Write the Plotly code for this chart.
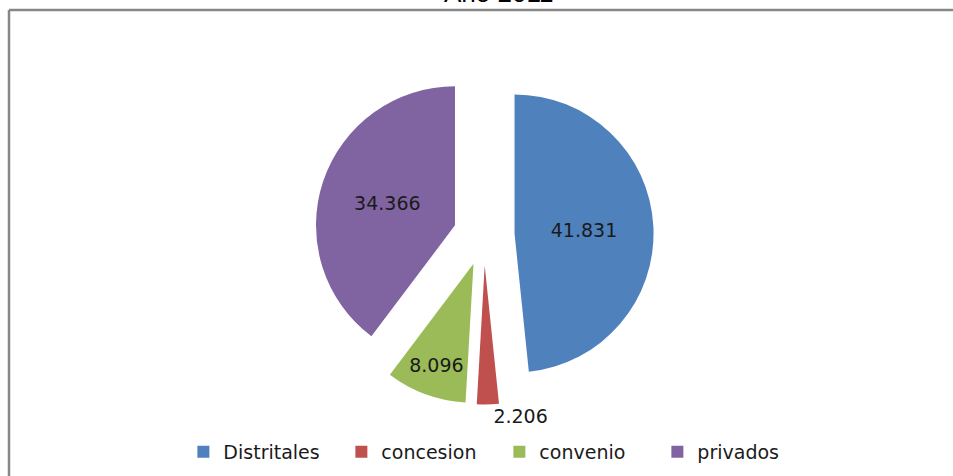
import plotly.graph_objects as go

categories = ["Distritales", "concesion", "convenio", "privados"]
values = [41.831, 2.206, 8.096, 34.366]
colors = ["#4F81BD", "#C0504D", "#9BBB59", "#8064A2"]
title_text = "Año 2011"

W, H = 953, 476

def px_x(p):
    return p / W

def px_y(p):
    return 1 - p / H

PULL = 0.22
R = 139
HALF = R * (1 + PULL)  # half-size of pie domain (px), includes pull
CX, CY = 484, 235

fig = go.Figure(go.Pie(
    labels=categories,
    values=values,
    sort=False,
    direction="clockwise",
    rotation=0,
    pull=[PULL] * 4,
    marker=dict(colors=colors, line=dict(width=0)),
    texttemplate="%{value:.3f}",
    textposition=["inside", "outside", "inside", "inside"],
    insidetextorientation="horizontal",
    textfont=dict(family="DejaVu Sans", size=19, color="#1a1a1a"),
    hoverinfo="label+value",
    domain=dict(x=[px_x(CX - HALF), px_x(CX + HALF)], y=[px_y(CY + HALF), px_y(CY - HALF)]),
))

fig.update_layout(
    width=W, height=H,
    margin=dict(l=0, r=0, t=0, b=0, autoexpand=False),
    paper_bgcolor="white",
    plot_bgcolor="white",
    showlegend=True,
    legend=dict(
        orientation="h",
        xref="container", yref="container",
        x=0.524, xanchor="center",
        y=px_y(452), yanchor="middle",
        font=dict(family="DejaVu Sans", size=19, color="#1a1a1a"),
        entrywidth=113, entrywidthmode="pixels",
        bgcolor="rgba(0,0,0,0)",
    ),
    annotations=[dict(
        text=title_text, xref="paper", yref="paper",
        x=px_x(498), y=px_y(10), xanchor="center", yanchor="bottom",
        showarrow=False,
        font=dict(family="Liberation Sans", size=26, color="#000000"),
    )],
    shapes=[
        dict(type="line", xref="paper", yref="paper",
             x0=px_x(9), x1=1.0, y0=px_y(10), y1=px_y(10),
             line=dict(color="#878787", width=2.5)),
        dict(type="line", xref="paper", yref="paper",
             x0=px_x(9), x1=px_x(9), y0=px_y(10), y1=0.0,
             line=dict(color="#878787", width=2.5)),
    ],
)

fig.write_html(
    "out.html",
    config={"displayModeBar": False},
    post_script="document.body.style.margin='0px';document.body.style.overflow='hidden';",
)
